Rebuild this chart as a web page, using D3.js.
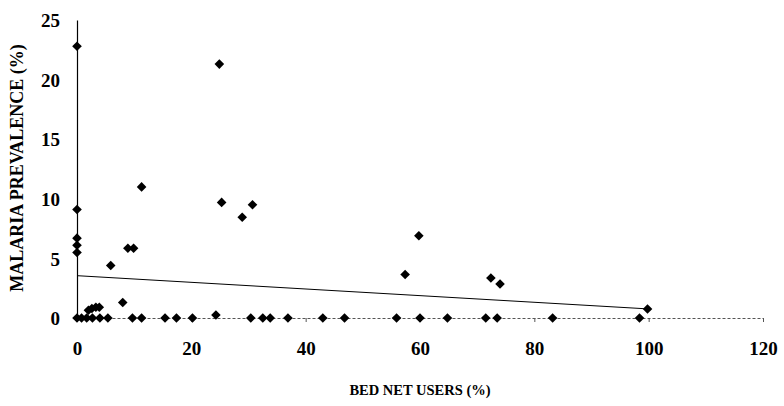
<!DOCTYPE html>
<html>
<head>
<meta charset="utf-8">
<script src="https://cdn.jsdelivr.net/npm/d3@7"></script>
<style>
  body { margin: 0; background: #fff; }
  text { font-family: "Liberation Serif", "Times New Roman", serif; font-weight: bold; }
</style>
</head>
<body>
<svg id="chart"></svg>
<script>
// bed net users (%) and malaria prevalence (%) for each village
const netUsers = [
  0, 0, 0, 0, 0, 0,
  2.0, 2.6, 3.3, 3.9,
  5.9, 8.0, 8.9, 9.9, 11.3,
  24.9, 25.3, 28.9, 30.7, 24.3,
  57.4, 59.8, 72.4, 74.0, 99.8,
  0.8, 1.7, 2.7, 4.0, 5.4, 9.7, 11.3, 15.4, 17.4, 20.2, 30.4, 32.5,
  33.8, 36.9, 43.0, 46.8, 55.9, 60.0, 64.8, 71.5, 73.5, 83.2, 98.4
];
const prevalence = [
  22.8, 9.1, 6.7, 6.1, 5.5, 0,
  0.65, 0.8, 0.9, 0.9,
  4.4, 1.3, 5.85, 5.85, 11.0,
  21.3, 9.7, 8.45, 9.5, 0.25,
  3.65, 6.9, 3.35, 2.85, 0.75,
  0, 0, 0, 0, 0, 0, 0, 0, 0, 0, 0, 0,
  0, 0, 0, 0, 0, 0, 0, 0, 0, 0, 0
];
// linear trend line as printed (end points)
const trendX = [0, 100];
const trendY = [3.55, 0.76];

const xTicks = [0, 20, 40, 60, 80, 100, 120];
const yTicks = [0, 5, 10, 15, 20, 25];

const width = 784, height = 406;
const svg = d3.select("#chart")
  .attr("width", width)
  .attr("height", height)
  .attr("viewBox", `0 0 ${width} ${height}`);

const x = d3.scaleLinear().domain([0, 120]).range([77, 763]);
const y = d3.scaleLinear().domain([0, 25]).range([318, 20]);

// x axis: dotted line with small ticks
svg.append("g")
  .attr("transform", `translate(0,${y(0)})`)
  .call(d3.axisBottom(x).tickValues(xTicks).tickSize(4).tickPadding(20).tickSizeOuter(0))
  .call(g => g.select(".domain").attr("stroke", "#555").attr("stroke-dasharray", "3,2"))
  .call(g => g.selectAll(".tick line").attr("stroke", "#555"))
  .call(g => g.selectAll(".tick text")
    .attr("font-size", 19)
    .attr("font-family", "Liberation Serif")
    .attr("font-weight", "bold")
    .attr("fill", "#000"));

// y axis: solid line, no tick marks
svg.append("g")
  .attr("transform", `translate(${x(0)},0)`)
  .call(d3.axisLeft(y).tickValues(yTicks).tickSize(0).tickPadding(17).tickSizeOuter(0))
  .call(g => g.select(".domain").attr("stroke", "#000").attr("stroke-width", 1.2))
  .call(g => g.selectAll(".tick text")
    .attr("font-size", 19)
    .attr("font-family", "Liberation Serif")
    .attr("font-weight", "bold")
    .attr("dy", "0.35em")
    .attr("fill", "#000"));

// trend line
svg.append("path")
  .datum(d3.zip(trendX, trendY))
  .attr("fill", "none")
  .attr("stroke", "#000")
  .attr("stroke-width", 1)
  .attr("d", d3.line().x(d => x(d[0])).y(d => y(d[1])));

// diamond markers
const points = d3.zip(netUsers, prevalence);
svg.append("g")
  .selectAll("path")
  .data(points)
  .join("path")
  .attr("transform", d => `translate(${x(d[0])},${y(d[1])})`)
  .attr("d", "M0,-4.8L4.8,0L0,4.8L-4.8,0Z")
  .attr("fill", "#000");

// axis titles
svg.append("text")
  .attr("x", 420)
  .attr("y", 395)
  .attr("text-anchor", "middle")
  .attr("font-size", 14.5)
  .text("BED NET USERS (%)");

svg.append("text")
  .attr("transform", "translate(23,168) rotate(-90)")
  .attr("text-anchor", "middle")
  .attr("font-size", 18)
  .text("MALARIA PREVALENCE (%)");
</script>
</body>
</html>
